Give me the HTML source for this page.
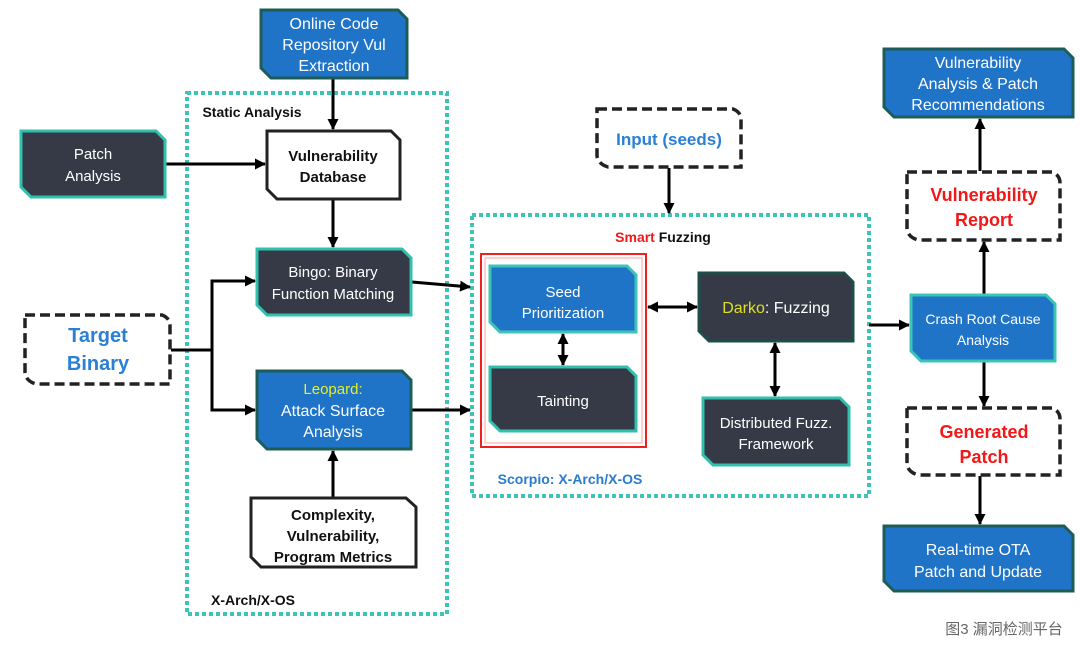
<!DOCTYPE html>
<html><head><meta charset="utf-8"><style>
html,body{margin:0;padding:0;background:#fff;}
svg{display:block;}
text{font-family:"Liberation Sans","Noto Sans CJK SC",sans-serif;text-anchor:middle;}
.w{fill:#fff;font-size:15px;}
.b{fill:#111;font-size:15px;font-weight:bold;}
</style></head><body>
<svg width="1080" height="645" viewBox="0 0 1080 645" xmlns="http://www.w3.org/2000/svg">
<defs>
<marker id="a" markerWidth="11" markerHeight="11" refX="10" refY="5.5" orient="auto" markerUnits="userSpaceOnUse"><path d="M0,0 L11,5.5 L0,11 Z" fill="#000"/></marker>
<marker id="s" markerWidth="11" markerHeight="11" refX="1" refY="5.5" orient="auto" markerUnits="userSpaceOnUse"><path d="M11,0 L0,5.5 L11,11 Z" fill="#000"/></marker>
</defs>
<!-- dotted containers -->
<rect x="187" y="93" width="260" height="521" fill="none" stroke="#3cc4b4" stroke-width="4" stroke-dasharray="4,3"/>
<rect x="472" y="215" width="397" height="281" fill="none" stroke="#3cc4b4" stroke-width="4" stroke-dasharray="4,3"/>
<text x="252" y="117" class="b" style="font-size:14px">Static Analysis</text>
<text x="253" y="605" class="b" style="font-size:14px">X-Arch/X-OS</text>
<text x="570" y="484" style="font-size:14px;font-weight:bold;fill:#2a7bd0">Scorpio: X-Arch/X-OS</text>
<text x="663" y="242" style="font-size:14px;font-weight:bold"><tspan fill="#f01818">Smart</tspan><tspan fill="#111"> Fuzzing</tspan></text>
<!-- red box -->
<rect x="481" y="254" width="165" height="193" fill="none" stroke="#f02020" stroke-width="2"/>
<rect x="485" y="258" width="157" height="185" fill="none" stroke="#f5a0a0" stroke-width="1"/>

<!-- connectors -->
<g stroke="#000" stroke-width="3" fill="none">
<line x1="333" y1="79" x2="333" y2="129" marker-end="url(#a)"/>
<line x1="165" y1="164" x2="265" y2="164" marker-end="url(#a)"/>
<line x1="333" y1="200" x2="333" y2="247" marker-end="url(#a)"/>
<polyline points="171,350 212,350 212,281 255,281" marker-end="url(#a)"/>
<polyline points="212,350 212,410 255,410" marker-end="url(#a)"/>
<line x1="412" y1="282" x2="470" y2="287" marker-end="url(#a)"/>
<line x1="412" y1="410" x2="470" y2="410" marker-end="url(#a)"/>
<line x1="333" y1="497" x2="333" y2="451" marker-end="url(#a)"/>
<line x1="669" y1="168" x2="669" y2="213" marker-end="url(#a)"/>
<line x1="648" y1="307" x2="697" y2="307" marker-end="url(#a)" marker-start="url(#s)"/>
<line x1="563" y1="334" x2="563" y2="365" marker-end="url(#a)" marker-start="url(#s)"/>
<line x1="775" y1="343" x2="775" y2="396" marker-end="url(#a)" marker-start="url(#s)"/>
<line x1="869" y1="325" x2="909" y2="325" marker-end="url(#a)"/>
<line x1="984" y1="294" x2="984" y2="242" marker-end="url(#a)"/>
<line x1="980" y1="171" x2="980" y2="119" marker-end="url(#a)"/>
<line x1="984" y1="362" x2="984" y2="406" marker-end="url(#a)"/>
<line x1="980" y1="476" x2="980" y2="524" marker-end="url(#a)"/>
</g>

<!-- blue boxes -->
<g fill="#1f74c8" stroke="#1e5c58" stroke-width="3">
<path d="M261,10 H398 L407,19 V78 H271 L261,68 Z"/>
<path d="M257,371 H402 L411,380 V449 H267 L257,439 Z"/>
<path d="M884,49 H1064 L1073,58 V117 H894 L884,107 Z"/>
<path d="M884,526 H1064 L1073,535 V591 H894 L884,581 Z"/>
</g>
<g fill="#1f74c8" stroke="#3cc4b4" stroke-width="3">
<path d="M490,266 H627 L636,275 V332 H500 L490,322 Z"/>
<path d="M911,295 H1046 L1055,304 V361 H921 L911,351 Z"/>
</g>
<!-- dark boxes -->
<g fill="#353a46" stroke="#30c0ad" stroke-width="3">
<path d="M21,131 H156 L165,140 V197 H31 L21,187 Z"/>
<path d="M257,249 H402 L411,258 V315 H267 L257,305 Z"/>
<path d="M490,367 H627 L636,376 V431 H500 L490,421 Z"/>
<path d="M703,398 H840 L849,407 V465 H713 L703,455 Z"/>
</g>
<path d="M699,273 H844 L853,282 V341 H709 L699,331 Z" fill="#353a46" stroke="#1e4e48" stroke-width="3"/>
<!-- white boxes -->
<g fill="#fff" stroke="#222" stroke-width="3">
<path d="M267,131 H391 L400,140 V199 H277 L267,189 Z"/>
<path d="M251,498 H406 L416,507 V567 H261 L251,557 Z"/>
</g>
<!-- dashed boxes -->
<g fill="#fff" stroke="#222" stroke-width="3.5" stroke-dasharray="10,5">
<path d="M25,315 H162 Q170,318 170,326 V384 H36 Q26,381 25,373 Z"/>
<path d="M597,109 H733 Q741,112 741,120 V167 H608 Q598,164 597,156 Z"/>
<path d="M907,172 H1052 Q1060,175 1060,183 V240 H918 Q908,237 907,229 Z"/>
<path d="M907,408 H1052 Q1060,411 1060,419 V475 H918 Q908,472 907,464 Z"/>
</g>

<!-- texts -->
<text x="334" y="29" class="w" style="font-size:16px">Online Code</text>
<text x="334" y="50" class="w" style="font-size:16px">Repository Vul</text>
<text x="334" y="71" class="w" style="font-size:16px">Extraction</text>
<text x="93" y="159" class="w">Patch</text>
<text x="93" y="181" class="w">Analysis</text>
<text x="333" y="161" class="b">Vulnerability</text>
<text x="333" y="182" class="b">Database</text>
<text x="333" y="277" class="w">Bingo: Binary</text>
<text x="333" y="299" class="w">Function Matching</text>
<text x="98" y="342" style="font-size:20px;font-weight:bold;fill:#2a80d4">Target</text>
<text x="98" y="370" style="font-size:20px;font-weight:bold;fill:#2a80d4">Binary</text>
<text x="333" y="394" style="font-size:15px;fill:#e8f020">Leopard:</text>
<text x="333" y="416" class="w" style="font-size:16px">Attack Surface</text>
<text x="333" y="437" class="w" style="font-size:16px">Analysis</text>
<text x="333" y="520" class="b">Complexity,</text>
<text x="333" y="541" class="b">Vulnerability,</text>
<text x="333" y="562" class="b">Program Metrics</text>
<text x="669" y="145" style="font-size:17px;font-weight:bold;fill:#2a80d4">Input (seeds)</text>
<text x="563" y="297" class="w">Seed</text>
<text x="563" y="318" class="w">Prioritization</text>
<text x="563" y="406" class="w">Tainting</text>
<text x="776" y="313" style="font-size:16px"><tspan fill="#e0e020">Darko</tspan><tspan fill="#fff">: Fuzzing</tspan></text>
<text x="776" y="428" class="w">Distributed Fuzz.</text>
<text x="776" y="449" class="w">Framework</text>
<text x="983" y="324" class="w" style="font-size:14px">Crash Root Cause</text>
<text x="983" y="345" class="w" style="font-size:14px">Analysis</text>
<text x="978" y="68" class="w" style="font-size:16px">Vulnerability</text>
<text x="978" y="89" class="w" style="font-size:16px">Analysis &amp; Patch</text>
<text x="978" y="110" class="w" style="font-size:16px">Recommendations</text>
<text x="984" y="201" style="font-size:18px;font-weight:bold;fill:#f01818">Vulnerability</text>
<text x="984" y="226" style="font-size:18px;font-weight:bold;fill:#f01818">Report</text>
<text x="984" y="438" style="font-size:18px;font-weight:bold;fill:#f01818">Generated</text>
<text x="984" y="463" style="font-size:18px;font-weight:bold;fill:#f01818">Patch</text>
<text x="978" y="555" class="w" style="font-size:16px">Real-time OTA</text>
<text x="978" y="577" class="w" style="font-size:16px">Patch  and Update</text>
<text x="1004" y="634" style="font-size:15px;fill:#666">图3 漏洞检测平台</text>
</svg>
</body></html>
